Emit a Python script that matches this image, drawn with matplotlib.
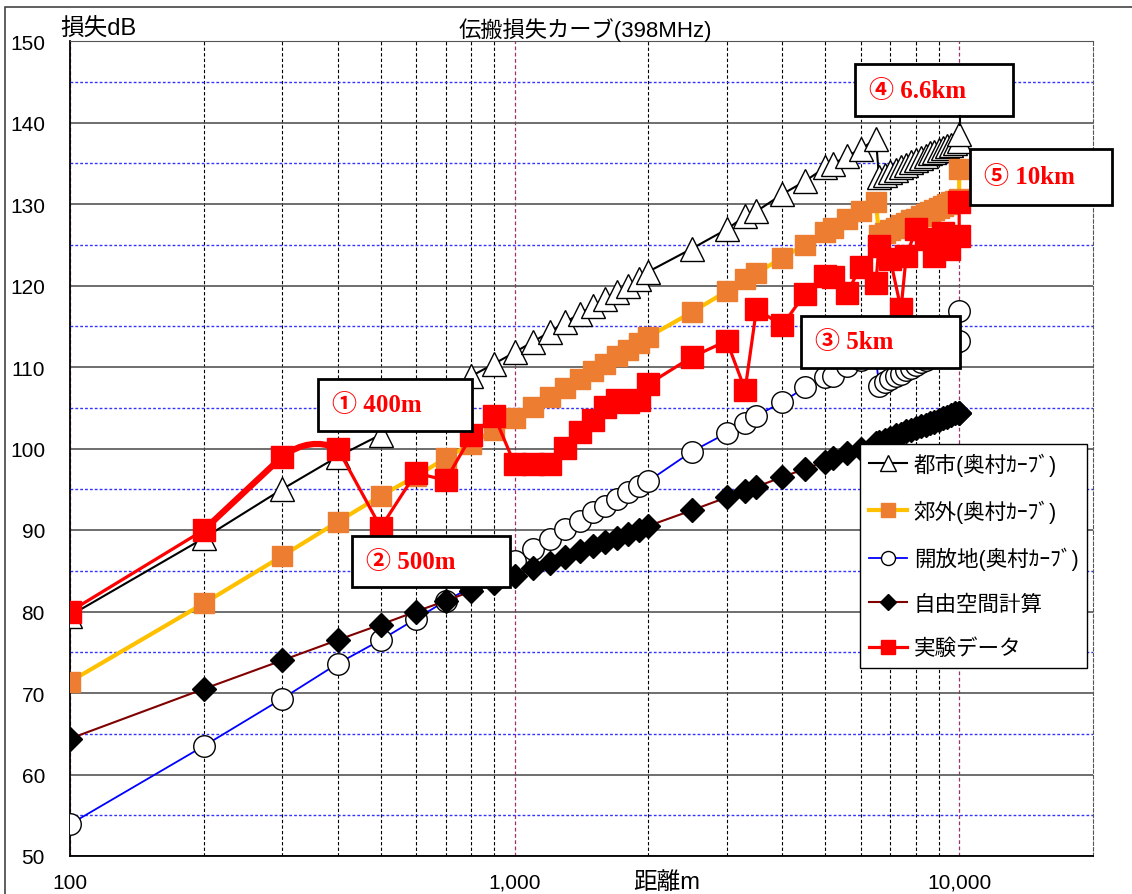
import matplotlib.pyplot as plt
from matplotlib.patches import Rectangle, PathPatch
from matplotlib.path import Path
from matplotlib.lines import Line2D
from matplotlib.ticker import FixedLocator, FuncFormatter, NullFormatter

plt.rcParams['font.family'] = ['Liberation Sans', 'Noto Sans CJK JP', 'DejaVu Sans']

# distances (m) used for the Okumura curves and free space
dist_oku = [100, 200, 300, 400, 500, 600, 700, 800, 900, 1000,
            1100, 1200, 1300, 1400, 1500, 1600, 1700, 1800, 1900, 2000,
            2500, 3000, 3300, 3500, 4000, 4500, 5000, 5200, 5600, 6000, 6500,
            6600, 6800, 7000, 7200, 7400, 7600, 7800, 8000, 8200, 8400,
            8600, 8800, 9000, 9200, 9400, 9600, 9800, 10000, 10000]

urban = [79.5, 89.0, 95.0, 99.0, 101.7, 104.3, 106.6, 108.9, 110.4, 111.8,
         113.1, 114.3, 115.5, 116.5, 117.5, 118.3, 119.2, 119.9, 120.8, 121.7,
         124.5, 126.9, 128.5, 129.1, 131.2, 132.8, 134.5, 134.9, 135.9, 136.7, 138.0,
         133.3, 133.6, 133.9, 134.2, 134.5, 134.8, 135.1, 135.4, 135.6, 135.9,
         136.2, 136.4, 136.6, 136.9, 137.1, 137.3, 137.5, 137.7, 138.6]

suburban = [71.4, 81.0, 86.8, 91.0, 94.2, 96.6, 98.8, 100.6, 102.3, 103.8,
            105.1, 106.3, 107.4, 108.5, 109.5, 110.4, 111.3, 112.1, 112.9, 113.7,
            116.7, 119.3, 120.8, 121.5, 123.4, 125.0, 126.6, 127.0, 128.1, 129.1, 130.2,
            126.2, 126.5, 126.8, 127.1, 127.4, 127.7, 128.0, 128.2, 128.5, 128.8,
            129.0, 129.3, 129.5, 129.8, 130.0, 130.2, 130.4, 130.6, 134.3]

open_area = [53.9, 63.5, 69.3, 73.6, 76.5, 79.1, 81.3, 83.0, 84.6, 86.2,
             87.7, 88.9, 90.1, 91.1, 92.2, 93.0, 93.8, 94.7, 95.4, 96.0,
             99.6, 101.9, 103.1, 104.0, 105.7, 107.5, 108.8, 108.9, 110.1, 110.8, 111.2,
             107.7, 108.1, 108.5, 108.9, 109.2, 109.6, 109.9, 110.2, 110.6, 110.9,
             111.2, 111.5, 111.8, 112.1, 112.4, 112.7, 112.9, 113.2, 116.9]

free_space = [64.4, 70.5, 74.0, 76.5, 78.4, 80.0, 81.3, 82.5, 83.5, 84.4,
              85.3, 86.0, 86.7, 87.4, 88.0, 88.5, 89.0, 89.5, 90.0, 90.5,
              92.4, 94.0, 94.8, 95.3, 96.5, 97.5, 98.4, 98.8, 99.4, 100.0, 100.7,
              100.8, 101.1, 101.3, 101.6, 101.8, 102.1, 102.3, 102.5, 102.7, 102.9,
              103.1, 103.3, 103.5, 103.7, 103.9, 104.1, 104.3, 104.4, 104.4]

# measured data
dist_exp = [100, 200, 300, 400, 500, 600, 700, 800, 900, 1000,
            1100, 1200, 1300, 1400, 1500, 1600, 1700, 1800, 1900, 2000,
            2500, 3000, 3300, 3500, 4000, 4500, 5000, 5200, 5600, 6000, 6500,
            6600, 7000, 7400, 7600, 8000, 8400, 8800, 9200, 9500, 10000, 10000]
measured = [80.0, 90.0, 99.0, 100.0, 90.3, 97.0, 96.1, 101.6, 104.0, 98.1,
            98.1, 98.1, 100.1, 102.0, 103.5, 105.1, 106.0, 105.7, 105.9, 107.9,
            111.2, 113.2, 107.2, 117.1, 115.1, 119.0, 121.2, 121.1, 119.1, 122.3, 120.3,
            124.9, 123.2, 117.1, 123.6, 126.9, 125.7, 123.6, 126.5, 124.5, 126.1, 130.3]

series_names = ['都市(奥村ｶｰﾌﾞ)', '郊外(奥村ｶｰﾌﾞ)', '開放地(奥村ｶｰﾌﾞ)', '自由空間計算', '実験データ']
note_labels = ['① 400m', '② 500m', '③ 5km', '④ 6.6km', '⑤ 10km']

title = '伝搬損失カーブ(398MHz)'
y_title = '損失dB'
x_title = '距離m'

W, H = 1132, 895
fig = plt.figure(figsize=(W / 100, H / 100), dpi=100)
ax = fig.add_axes([70 / W, 1 - 857 / H, (1093 - 70) / W, (857 - 42) / H])


def fx(px):
    return px / W


def fy(py):
    return 1 - py / H


ax.plot(dist_oku, urban, color='black', lw=1.5, marker='^', ms=17,
        mfc='white', mec='black', mew=1.0, label=series_names[0], zorder=3)
ax.plot(dist_oku, suburban, color='#FFC000', lw=3, marker='s', ms=15,
        mfc='#ED7D31', mec='#ED7D31', label=series_names[1], zorder=4)
ax.plot(dist_oku, open_area, color='#0000FF', lw=1.3, marker='o', ms=15.5,
        mfc='white', mec='black', mew=1.0, label=series_names[2], zorder=5)
ax.plot(dist_oku, free_space, color='#800000', lw=1.5, marker='D', ms=12,
        mfc='black', mec='black', label=series_names[3], zorder=6)

# measured: thin first segment, thick 200-400 with a smoothed bend, then normal
ax.plot(dist_exp[:2], measured[:2], color='red', lw=2.3, zorder=7)
ax.plot(dist_exp[1:3], measured[1:3], color='red', lw=4.5, zorder=7,
        solid_capstyle='round')
bend = Path([(dist_exp[2], measured[2]),
             ((dist_exp[2] * dist_exp[3]) ** 0.5, measured[3] + 1.5),
             (dist_exp[3], measured[3])],
            [Path.MOVETO, Path.CURVE3, Path.CURVE3])
ax.add_patch(PathPatch(bend, facecolor='none', edgecolor='red', lw=4.5,
                       capstyle='round', zorder=7))
ax.plot(dist_exp[3:], measured[3:], color='red', lw=2.3, zorder=7)
ax.plot(dist_exp, measured, color='red', lw=2.3, ls='none', marker='s', ms=15.5,
        mfc='red', mec='red', zorder=8)
exp_handle = Line2D([], [], color='red', lw=2.3, marker='s', ms=15.5,
                    mfc='red', mec='red')

ax.set_xscale('log')
ax.set_xlim(100, 20000)
ax.set_ylim(50, 150)

ax.xaxis.set_major_locator(FixedLocator([100, 1000, 10000]))
ax.xaxis.set_major_formatter(FuncFormatter(lambda v, p: f'{v:,.0f}'))
ax.xaxis.set_minor_locator(FixedLocator([k * 100 for k in range(2, 10)] +
                                        [k * 1000 for k in range(2, 10)]))
ax.xaxis.set_minor_formatter(NullFormatter())
ax.yaxis.set_major_locator(FixedLocator(range(50, 151, 10)))
ax.yaxis.set_minor_locator(FixedLocator(range(55, 150, 10)))

ax.tick_params(axis='both', which='both', length=0)
ax.tick_params(axis='y', labelsize=15, pad=18)
ax.tick_params(axis='x', labelsize=15, pad=12)

ax.grid(True, axis='x', which='minor', color='black', ls=(0, (3, 2)), lw=0.8)
ax.grid(True, axis='x', which='major', color='#993366', ls=(0, (3, 2)), lw=0.9)
ax.grid(True, axis='y', which='major', color='#555555', ls='-', lw=1.2)
ax.grid(True, axis='y', which='minor', color='#3333FF', ls=(0, (2, 1.5)), lw=1.0)
ax.set_axisbelow(True)

ax.spines['left'].set_color('black')
ax.spines['bottom'].set_color('black')
ax.spines['left'].set_linewidth(1.3)
ax.spines['bottom'].set_linewidth(1.3)
ax.spines['top'].set_color('#555555')
ax.spines['right'].set_color('#555555')
ax.spines['right'].set_linestyle((0, (3, 2)))

handles = ax.get_lines()[:4] + [exp_handle]
leg = ax.legend(handles, series_names, loc='upper left',
                bbox_to_anchor=((860 - 70) / 1023, 1 - (445 - 42) / 815),
                fontsize=15.5, markerscale=0.65, handlelength=1.8,
                labelspacing=1.1, borderpad=0.4, handletextpad=0.3,
                borderaxespad=0, fancybox=False, framealpha=1, edgecolor='black')
leg.get_frame().set_linewidth(1.0)
leg.set_zorder(20)

fig.text(fx(585), fy(30), title, ha='center', va='center', fontsize=16)
fig.text(fx(60), fy(30), y_title, ha='left', va='center', fontsize=17)
fig.text(fx(667), fy(883), x_title, ha='center', va='center', fontsize=17)

# callout boxes (figure pixels: left, top, right, bottom)
note_boxes = [(318, 380, 472, 432), (352, 537, 510, 588), (801, 317, 960, 369),
              (855, 65, 1013, 117), (970, 150, 1112, 206)]
for label, (x0, y0, x1, y1) in zip(note_labels, note_boxes):
    fig.add_artist(Rectangle((fx(x0), fy(y1)), fx(x1) - fx(x0), fy(y0) - fy(y1),
                             transform=fig.transFigure, facecolor='white',
                             edgecolor='black', lw=2, zorder=10))
    fig.text(fx(x0 + 14), fy((y0 + y1) / 2), label, ha='left', va='center',
             color='red', fontsize=18, fontweight='bold',
             family=['Liberation Serif', 'Noto Sans CJK JP'], zorder=11)
fig.add_artist(Line2D([fx(960), fx(960)], [fy(117), fy(126)],
                      transform=fig.transFigure, color='black', lw=1.5, zorder=10))

# outer chart frame
fig.add_artist(Rectangle((fx(5), fy(H + 5)), fx(W + 5), fy(8) - fy(H + 5),
                         transform=fig.transFigure, facecolor='none',
                         edgecolor='#444444', lw=1.2, zorder=0))

fig.savefig('out.png', dpi=100)
